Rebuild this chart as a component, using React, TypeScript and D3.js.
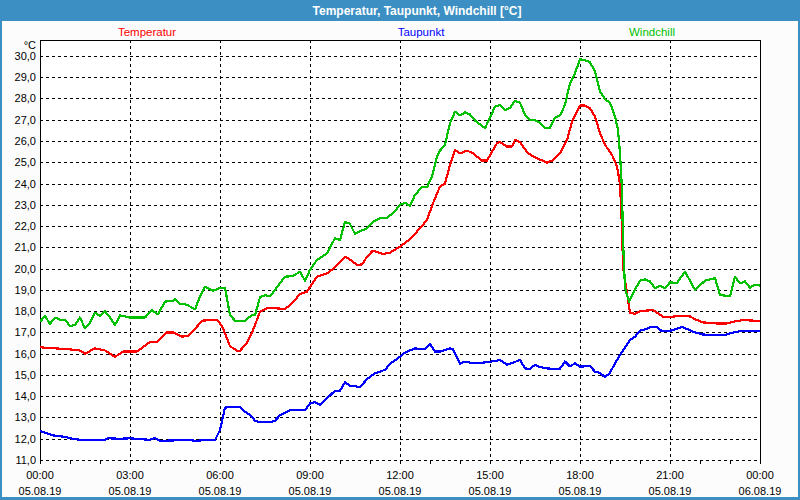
import React from "react";
import * as d3 from "d3";

const TITLE = "Temperatur, Taupunkt, Windchill [°C]";
const seriesNames = ["Temperatur", "Taupunkt", "Windchill"];
const seriesColors = ["#ff0000", "#0000ff", "#00c000"];

const yTicks = d3.range(11, 31, 1);
const xTickHours = [0, 3, 6, 9, 12, 15, 18, 21, 24];
const xTimeLabels = ["00:00", "03:00", "06:00", "09:00", "12:00", "15:00", "18:00", "21:00", "00:00"];
const xDateLabels = ["05.08.19", "05.08.19", "05.08.19", "05.08.19", "05.08.19", "05.08.19", "05.08.19", "05.08.19", "06.08.19"];

// minutes since 00:00 on 05.08.19
const tempMinutes = [0, 30, 60, 80, 90, 110, 130, 150, 166, 194, 220, 234, 254, 266, 284, 296, 306, 324, 354, 364, 380, 394, 400, 414, 426, 440, 456, 490, 504, 520, 534, 554, 574, 590, 610, 616, 634, 644, 654, 666, 686, 700, 720, 740, 760, 774, 786, 800, 810, 820, 830, 840, 854, 866, 884, 894, 914, 920, 934, 944, 950, 960, 976, 994, 1014, 1026, 1040, 1054, 1064, 1080, 1090, 1100, 1110, 1120, 1130, 1144, 1154, 1160, 1164, 1166, 1174, 1180, 1190, 1200, 1226, 1246, 1266, 1286, 1300, 1314, 1326, 1354, 1374, 1386, 1406, 1430, 1440];
const tempValues = [16.3, 16.25, 16.2, 16.15, 16.0, 16.25, 16.15, 15.85, 16.1, 16.1, 16.55, 16.55, 17.0, 17.0, 16.8, 16.85, 17.05, 17.55, 17.6, 17.3, 16.35, 16.14, 16.14, 16.5, 17.1, 17.97, 18.16, 18.1, 18.37, 18.8, 18.92, 19.62, 19.78, 20.06, 20.56, 20.5, 20.17, 20.2, 20.56, 20.85, 20.69, 20.75, 21.03, 21.38, 21.9, 22.29, 23.07, 23.86, 24.0, 24.87, 25.58, 25.42, 25.55, 25.42, 25.08, 25.08, 25.9, 25.95, 25.74, 25.74, 26.05, 25.95, 25.42, 25.19, 24.98, 25.1, 25.42, 26.05, 26.91, 27.67, 27.67, 27.54, 27.15, 26.37, 25.82, 25.35, 24.8, 24.0, 21.97, 20.1, 18.84, 17.93, 17.87, 18.0, 18.05, 17.74, 17.74, 17.79, 17.75, 17.58, 17.47, 17.42, 17.42, 17.5, 17.58, 17.55, 17.52];

const dewMinutes = [0, 10, 20, 30, 50, 64, 80, 130, 136, 160, 180, 206, 220, 230, 240, 266, 294, 314, 326, 350, 360, 370, 380, 400, 410, 420, 430, 440, 460, 470, 480, 500, 530, 540, 550, 560, 574, 590, 600, 610, 620, 640, 654, 670, 690, 700, 720, 730, 750, 770, 780, 790, 800, 820, 826, 840, 850, 864, 880, 900, 920, 934, 946, 960, 970, 980, 990, 1000, 1014, 1026, 1040, 1050, 1060, 1070, 1080, 1100, 1110, 1120, 1130, 1140, 1150, 1160, 1170, 1180, 1190, 1200, 1210, 1224, 1234, 1244, 1256, 1270, 1284, 1296, 1310, 1326, 1346, 1366, 1380, 1394, 1406, 1420, 1440];
const dewValues = [12.36, 12.28, 12.2, 12.14, 12.09, 12.0, 11.95, 11.95, 12.02, 12.0, 12.02, 11.97, 11.95, 12.03, 11.9, 11.92, 11.94, 11.9, 11.93, 11.94, 12.41, 13.46, 13.5, 13.5, 13.27, 13.12, 12.85, 12.77, 12.77, 12.85, 13.1, 13.35, 13.35, 13.66, 13.72, 13.6, 13.9, 14.26, 14.26, 14.65, 14.5, 14.43, 14.8, 15.08, 15.24, 15.52, 15.86, 16.05, 16.25, 16.2, 16.46, 16.1, 16.1, 16.25, 16.2, 15.52, 15.63, 15.56, 15.56, 15.62, 15.7, 15.48, 15.58, 15.7, 15.31, 15.28, 15.48, 15.37, 15.31, 15.28, 15.3, 15.63, 15.4, 15.55, 15.39, 15.42, 15.15, 15.1, 14.89, 15.1, 15.55, 15.94, 16.3, 16.64, 16.8, 17.08, 17.14, 17.27, 17.25, 17.05, 17.05, 17.14, 17.25, 17.14, 17.0, 16.9, 16.88, 16.86, 16.95, 17.03, 17.08, 17.05, 17.05];

const chillMinutes = [0, 10, 20, 30, 40, 50, 60, 70, 80, 90, 100, 110, 120, 130, 140, 150, 160, 180, 210, 224, 236, 250, 266, 270, 280, 294, 310, 320, 330, 346, 360, 370, 380, 390, 410, 424, 430, 440, 450, 460, 474, 490, 506, 520, 530, 540, 554, 574, 590, 600, 610, 620, 630, 640, 654, 666, 680, 694, 706, 720, 730, 740, 750, 764, 774, 784, 794, 800, 810, 820, 830, 840, 850, 860, 870, 890, 900, 910, 920, 930, 940, 950, 960, 970, 980, 990, 1000, 1010, 1020, 1030, 1040, 1050, 1060, 1070, 1080, 1090, 1100, 1110, 1120, 1130, 1140, 1150, 1156, 1160, 1164, 1166, 1170, 1178, 1186, 1200, 1210, 1220, 1230, 1240, 1250, 1260, 1274, 1290, 1310, 1330, 1350, 1360, 1380, 1390, 1400, 1410, 1420, 1430, 1440];
const chillValues = [17.5, 17.77, 17.4, 17.7, 17.6, 17.6, 17.3, 17.35, 17.7, 17.19, 17.45, 17.93, 17.77, 18.0, 17.7, 17.35, 17.8, 17.7, 17.7, 18.04, 17.85, 18.45, 18.48, 18.56, 18.35, 18.3, 18.08, 18.7, 19.15, 18.95, 19.1, 19.1, 17.82, 17.55, 17.55, 17.82, 17.82, 18.65, 18.75, 18.7, 19.12, 19.62, 19.65, 19.86, 19.43, 19.94, 20.41, 20.72, 21.43, 21.33, 22.21, 22.1, 21.63, 21.75, 21.9, 22.21, 22.37, 22.4, 22.6, 23.0, 23.1, 22.95, 23.47, 23.83, 23.83, 24.33, 25.27, 25.55, 25.82, 26.84, 27.38, 27.2, 27.35, 27.25, 26.96, 26.6, 27.1, 27.62, 27.7, 27.45, 27.55, 27.89, 27.8, 27.23, 27.0, 26.97, 26.85, 26.63, 26.63, 27.1, 27.2, 27.7, 28.72, 29.19, 29.85, 29.8, 29.7, 29.27, 28.33, 27.97, 27.8, 27.15, 26.52, 25.42, 23.7, 21.35, 19.08, 18.45, 18.84, 19.43, 19.5, 19.4, 19.08, 19.2, 19.08, 19.35, 19.33, 19.86, 19.0, 19.43, 19.55, 18.76, 18.7, 19.62, 19.3, 19.4, 19.1, 19.25, 19.2];

const W = 800;
const H = 500;
const left = 40, right = 760, top = 40, bottom = 460;
const FONT = "'Liberation Sans', Arial, sans-serif";

export default function App() {
  const x = d3.scaleLinear().domain([0, 1440]).range([left, right]);
  const y = d3.scaleLinear().domain([11, 30.75]).range([bottom, top]);
  const line = d3.line<[number, number]>().x((d) => x(d[0])).y((d) => y(d[1]));
  const mk = (ts: number[], vs: number[]) => ts.map((t, i) => [t, vs[i]] as [number, number]);
  const series = [mk(tempMinutes, tempValues), mk(dewMinutes, dewValues), mk(chillMinutes, chillValues)];
  const legendX = [147, 421, 652];
  const minorHours = d3.range(0, 25, 1);

  return (
    <svg width={W} height={H} style={{ position: "fixed", left: 0, top: 0, display: "block" }} fontFamily={FONT}>
      <rect x={0} y={0} width={W} height={H} fill="#3c8fc3" />
      <rect x={2} y={21} width={W - 4} height={H - 24} fill="#fcfcfc" />
      <text x={W / 2 + 17} y={15} textAnchor="middle" fill="#ffffff" fontWeight="bold" fontSize={12}>{TITLE}</text>
      {seriesNames.map((n, i) => (
        <text key={n} x={legendX[i]} y={36} textAnchor="middle" fill={seriesColors[i]} fontSize={11.5}>{n}</text>
      ))}
      <rect x={left} y={top} width={right - left} height={bottom - top} fill="#ffffff" />
      <g shapeRendering="crispEdges" stroke="#000" strokeWidth={1} strokeDasharray="3,3">
        {yTicks.map((v) => (
          <line key={"h" + v} x1={left} x2={right} y1={Math.round(y(v)) + 0.5} y2={Math.round(y(v)) + 0.5} />
        ))}
        {xTickHours.slice(1, -1).map((h) => (
          <line key={"v" + h} x1={Math.round(x(h * 60)) + 0.5} x2={Math.round(x(h * 60)) + 0.5} y1={top} y2={bottom} />
        ))}
      </g>
      <g shapeRendering="crispEdges" stroke="#000" strokeWidth={1}>
        <line x1={left + 0.5} x2={left + 0.5} y1={top} y2={bottom + 1} />
        <line x1={right + 0.5} x2={right + 0.5} y1={top} y2={bottom + 1} />
        <line x1={left} x2={right + 1} y1={top + 0.5} y2={top + 0.5} />
        {minorHours.map((h) => (
          <line key={"t" + h} x1={Math.round(x(h * 60)) + 0.5} x2={Math.round(x(h * 60)) + 0.5} y1={bottom} y2={bottom + 4} />
        ))}
      </g>
      {series.map((s, i) => (
        <path key={"s" + i} d={line(s) || ""} fill="none" stroke={seriesColors[i]} strokeWidth={2.2} strokeLinejoin="round" shapeRendering="crispEdges" />
      ))}
      <text x={36} y={49} textAnchor="end" fontSize={11} fill="#000">°C</text>
      {yTicks.map((v) => (
        <text key={"yl" + v} x={36} y={y(v) + 4} textAnchor="end" fontSize={11} fill="#000">
          {v.toFixed(1).replace(".", ",")}
        </text>
      ))}
      {xTickHours.map((h, i) => (
        <g key={"xl" + i}>
          <text x={x(h * 60)} y={479} textAnchor="middle" fontSize={11} fill="#000">{xTimeLabels[i]}</text>
          <text x={x(h * 60)} y={495} textAnchor="middle" fontSize={11} fill="#000">{xDateLabels[i]}</text>
        </g>
      ))}
    </svg>
  );
}
